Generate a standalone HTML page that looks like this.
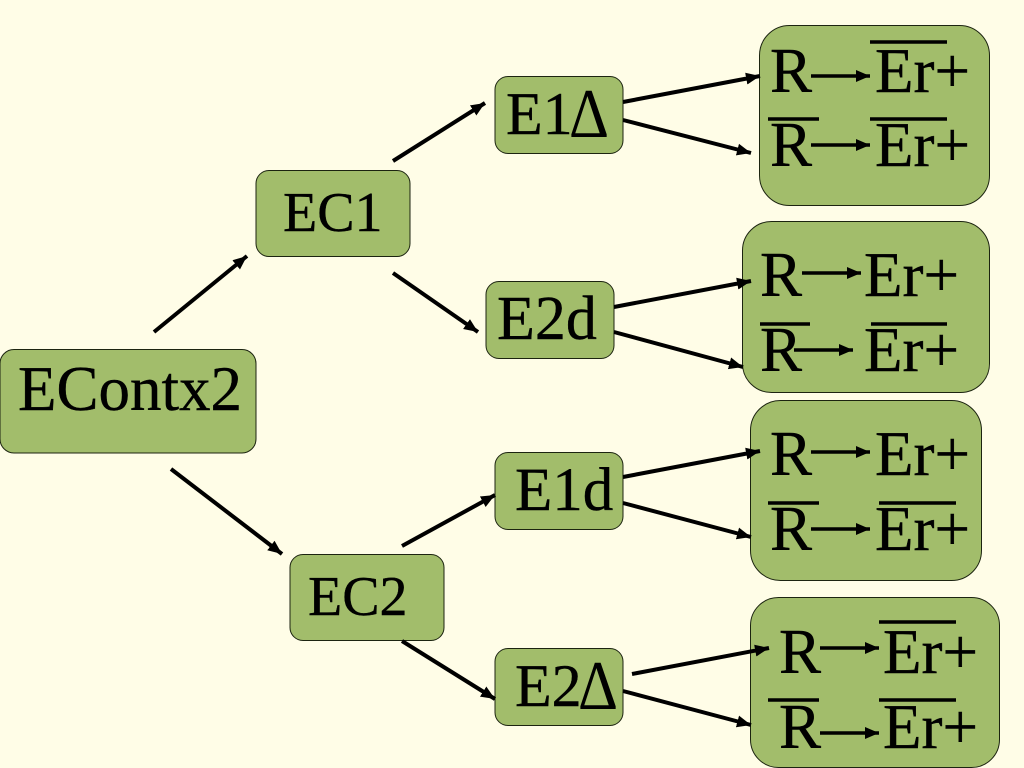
<!DOCTYPE html>
<html>
<head>
<meta charset="utf-8">
<style>
html,body{margin:0;padding:0;background:#fffde7;}
svg{display:block;}
text{font-family:"Liberation Serif",serif;fill:#000;stroke:#000;stroke-width:0.4;}
.n{fill:#a2bd6b;stroke:#1c2410;stroke-width:1;}
.a{stroke:#000;stroke-width:4;fill:none;marker-end:url(#h);}
.i{stroke:#000;stroke-width:3.5;fill:none;marker-end:url(#s);}
.o{stroke:#000;stroke-width:3.5;}
.t{font-size:63px;}
</style>
</head>
<body>
<svg width="1024" height="768" viewBox="0 0 1024 768" xmlns="http://www.w3.org/2000/svg">
<defs>
<marker id="h" markerUnits="userSpaceOnUse" markerWidth="16" markerHeight="14" refX="14" refY="7" orient="auto"><path d="M0 1L14 7L0 13Z" fill="#000"/></marker>
<marker id="s" markerUnits="userSpaceOnUse" markerWidth="16" markerHeight="14" refX="14" refY="7" orient="auto"><path d="M0 1L14 7L0 13Z" fill="#000"/></marker>
</defs>
<rect width="1024" height="768" fill="#fffde7"/>

<rect class="n" x="0" y="349.5" width="256" height="103.5" rx="14"/>
<rect class="n" x="256" y="170.5" width="154" height="86" rx="13"/>
<rect class="n" x="290" y="554.5" width="154" height="86" rx="13"/>
<rect class="n" x="495" y="76.5" width="128" height="77" rx="13"/>
<rect class="n" x="486" y="281.5" width="128" height="77" rx="13"/>
<rect class="n" x="495" y="452.5" width="128" height="77" rx="13"/>
<rect class="n" x="495" y="648.5" width="128" height="77" rx="13"/>
<rect class="n" x="759.5" y="25.5" width="230" height="180" rx="30"/>
<rect class="n" x="742.5" y="221.5" width="247" height="171" rx="29"/>
<rect class="n" x="750.5" y="400.5" width="231" height="180" rx="30"/>
<rect class="n" x="750.5" y="597.5" width="249" height="170" rx="28"/>

<line class="a" x1="154" y1="332" x2="247" y2="256"/>
<line class="a" x1="171" y1="469" x2="282" y2="554"/>
<line class="a" x1="393" y1="161" x2="485" y2="103"/>
<line class="a" x1="393" y1="273" x2="478" y2="332"/>
<line class="a" x1="402" y1="546" x2="495" y2="495"/>
<line class="a" x1="402" y1="641" x2="495" y2="699"/>
<line class="a" x1="623" y1="102" x2="760" y2="76"/>
<line class="a" x1="623" y1="120" x2="751" y2="153"/>
<line class="a" x1="614" y1="307" x2="751" y2="281"/>
<line class="a" x1="614" y1="332" x2="743" y2="367"/>
<line class="a" x1="623" y1="477" x2="760" y2="451"/>
<line class="a" x1="623" y1="503" x2="751" y2="537"/>
<line class="a" x1="632" y1="674" x2="769" y2="648"/>
<line class="a" x1="623" y1="691" x2="751" y2="725"/>

<text x="18" y="410" font-size="63">EContx2</text>
<text x="283" y="231" font-size="56">EC1</text>
<text x="308" y="615" font-size="56">EC2</text>
<text x="506" y="134" font-size="60">E1</text>
<text x="569" y="137" font-size="70" textLength="40" lengthAdjust="spacingAndGlyphs" style="stroke-width:0">Δ</text>
<text x="497" y="339" font-size="62">E2d</text>
<text x="515" y="510" font-size="61">E1d</text>
<text x="515" y="706" font-size="60">E2</text>
<text x="578" y="709" font-size="70" textLength="40" lengthAdjust="spacingAndGlyphs" style="stroke-width:0">Δ</text>

<text class="t" x="770" y="92">R</text><text class="t" x="875" y="92">Er+</text>
<text class="t" x="770" y="166">R</text><text class="t" x="875" y="166">Er+</text>
<line class="i" x1="811" y1="76" x2="870" y2="76"/>
<line class="i" x1="811" y1="145" x2="870" y2="145"/>
<line class="o" x1="870" y1="42" x2="947" y2="42"/>
<line class="o" x1="768" y1="119" x2="819" y2="119"/>
<line class="o" x1="870" y1="119" x2="947" y2="119"/>

<text class="t" x="760" y="296">R</text><text class="t" x="864" y="296">Er+</text>
<text class="t" x="760" y="371">R</text><text class="t" x="864" y="371">Er+</text>
<line class="i" x1="802" y1="273" x2="861" y2="273"/>
<line class="i" x1="794" y1="350" x2="853" y2="350"/>
<line class="o" x1="760" y1="324" x2="810" y2="324"/>
<line class="o" x1="871" y1="324" x2="947" y2="324"/>

<text class="t" x="770" y="475">R</text><text class="t" x="875" y="475">Er+</text>
<text class="t" x="770" y="550">R</text><text class="t" x="875" y="550">Er+</text>
<line class="i" x1="811" y1="452" x2="870" y2="452"/>
<line class="i" x1="811" y1="529" x2="870" y2="529"/>
<line class="o" x1="768" y1="503" x2="819" y2="503"/>
<line class="o" x1="879" y1="503" x2="956" y2="503"/>

<text class="t" x="779" y="673">R</text><text class="t" x="883" y="673">Er+</text>
<text class="t" x="779" y="748">R</text><text class="t" x="883" y="748">Er+</text>
<line class="i" x1="820" y1="648" x2="879" y2="648"/>
<line class="i" x1="820" y1="733" x2="879" y2="733"/>
<line class="o" x1="879" y1="622" x2="956" y2="622"/>
<line class="o" x1="768" y1="700" x2="819" y2="700"/>
<line class="o" x1="879" y1="700" x2="956" y2="700"/>
</svg>
</body>
</html>
